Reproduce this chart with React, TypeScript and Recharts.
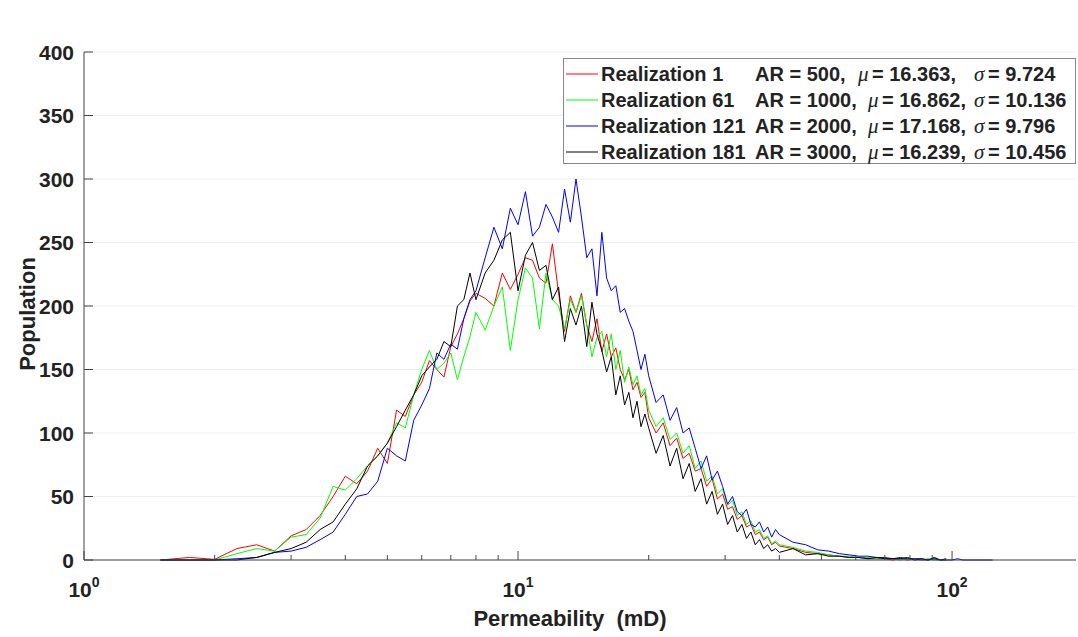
import React from 'react';
import { LineChart, Line, XAxis, YAxis, CartesianGrid, Legend } from 'recharts';

// bin centres (mD) and counts
const permeability = [
  1.5, 1.75, 2, 2.25, 2.5, 2.75, 3, 3.25, 3.5, 3.75, 4, 4.25, 4.5, 4.75, 5, 5.25, 5.5, 5.75, 6, 6.25, 6.5, 6.75, 7, 7.25, 7.5, 7.75,
  8, 8.4, 8.8, 9.2, 9.6, 10, 10.4, 10.8, 11.2, 11.6, 12, 12.4, 12.8, 13.2, 13.6, 14, 14.4, 14.8, 15.2, 15.6, 16, 16.4, 16.8, 17.2, 17.6, 18, 18.4, 18.8, 19.2, 19.6,
  20, 20.8, 21.6, 22.4, 23.2, 24, 24.8, 25.6, 26.4, 27.2, 28, 28.8, 29.6, 30.4, 31.2, 32, 32.8, 33.6, 34.4, 35.2, 36, 36.8, 37.6, 38.4, 39.2,
  40, 43, 46, 49, 52, 55, 58, 61, 64, 67, 70, 73, 76, 79, 82, 85, 88, 91, 94, 97, 100, 103, 106, 109, 112, 115, 118, 121, 124,
];

const realization1 = [
  0, 2, 0.5, 9, 12, 7, 19, 24, 35, 50, 66, 60, 70, 88, 76, 118, 113, 130, 140, 157, 150, 144, 168, 178, 190, 204,
  210, 206, 200, 226, 213, 225, 238, 236, 222, 218, 249, 210, 180, 208, 195, 210, 185, 172, 190, 164, 178, 160, 167, 150, 142, 150, 134, 140, 128, 132,
  112, 100, 108, 90, 96, 80, 84, 70, 72, 58, 64, 48, 52, 40, 42, 32, 35, 26, 28, 20, 22, 16, 18, 12, 14,
  11, 9, 6, 5, 4, 3, 2, 2, 1, 1, 1, 0, 1, 0, 1, 0, 0, 1, 0, 0, null, null, null, null, null, null, null, null, null,
];

const realization61 = [
  0, 0, 0, 5, 9, 7, 18, 20, 33, 58, 55, 64, 74, 82, 92, 108, 104, 130, 150, 165, 150, 155, 163, 142, 160, 176,
  195, 181, 200, 215, 165, 205, 230, 222, 182, 226, 205, 200, 182, 205, 195, 208, 185, 160, 175, 180, 160, 178, 150, 165, 140, 152, 138, 145, 130, 135,
  118, 105, 112, 95, 100, 84, 90, 72, 78, 62, 66, 52, 56, 43, 47, 35, 38, 28, 31, 22, 24, 17, 19, 13, 15,
  12, 10, 7, 6, 4, 3, 3, 2, 2, 1, 1, 1, 0, 1, 0, 0, 1, 0, 0, 0, null, null, null, null, null, null, null, null, null,
];

const realization121 = [
  0, 0, 0, 1, 2, 6, 7, 10, 16, 22, 36, 50, 52, 62, 88, 82, 78, 110, 122, 135, 163, 158, 170, 166, 190, 205,
  212, 238, 262, 245, 277, 264, 290, 255, 262, 280, 270, 258, 292, 266, 300, 270, 238, 245, 208, 258, 222, 212, 216, 195, 198, 188, 180, 165, 150, 162,
  145, 124, 130, 110, 120, 100, 104, 88, 72, 82, 63, 70, 58, 44, 50, 38, 35, 40, 28, 26, 30, 22, 26, 18, 24,
  20, 14, 12, 8, 7, 5, 4, 3, 3, 2, 2, 1, 2, 1, 1, 1, 0, 1, 0, 0, 0, 1, 0, 0, 0, 0, 0, 0, 0,
];

const realization181 = [
  0, 0, 0, 0, 2, 6, 9, 14, 24, 30, 44, 56, 74, 82, 92, 105, 118, 130, 145, 152, 158, 172, 168, 200, 205, 226,
  205, 226, 236, 252, 258, 212, 240, 250, 228, 232, 205, 215, 172, 198, 185, 200, 168, 203, 178, 165, 148, 160, 130, 145, 122, 132, 112, 125, 105, 115,
  104, 84, 98, 74, 88, 64, 76, 54, 64, 44, 54, 36, 44, 28, 35, 22, 28, 17, 22, 12, 16, 9, 12, 7, 9,
  6, 9, 4, 5, 3, 3, 2, 2, 1, 2, 1, 1, 1, 2, 0, 1, 0, 2, 0, 1, null, null, null, null, null, null, null, null, null,
];

const seriesKeys = ['r1', 'r61', 'r121', 'r181'];
const seriesNames = ['Realization 1', 'Realization 61', 'Realization 121', 'Realization 181'];
const seriesColors = ['#ff0000', '#00ff00', '#0000ff', '#000000'];
const aspectRatios = ['AR = 500,', 'AR = 1000,', 'AR = 2000,', 'AR = 3000,'];
const means = ['16.363', '16.862', '17.168', '16.239'];
const stdDevs = ['9.724', '10.136', '9.796', '10.456'];

const xTicks = [1, 2, 3, 4, 5, 6, 7, 8, 9, 10, 20, 30, 40, 50, 60, 70, 80, 90, 100];
const xMajorTicks = [1, 10, 100];
const yTicks = [0, 50, 100, 150, 200, 250, 300, 350, 400];

const data = permeability.map((p, i) => ({
  p,
  r1: realization1[i],
  r61: realization61[i],
  r121: realization121[i],
  r181: realization181[i],
}));

const FONT = '"Liberation Sans", Arial, Helvetica, sans-serif';
const GREEK = '"Liberation Serif", "DejaVu Serif", serif';
const AXIS = '#444';

const BottomTick = (props: any) => {
  const { x, y, payload } = props;
  const major = xMajorTicks.includes(payload.value);
  return (
    <g>
      <line x1={x} x2={x} y1={y} y2={y - (major ? 9 : 5)} stroke={AXIS} />
      {major && (
        <text x={x} y={y + 37} textAnchor="middle" fontFamily={FONT} fontWeight="bold" fontSize={21} fill="#222">
          10<tspan dy={-10} fontSize={14}>{Math.round(Math.log10(payload.value))}</tspan>
        </text>
      )}
    </g>
  );
};

const TopTick = (props: any) => {
  const { x, y, payload } = props;
  const major = xMajorTicks.includes(payload.value);
  return <line x1={x} x2={x} y1={y} y2={y + (major ? 9 : 5)} stroke={AXIS} />;
};

const LeftTick = (props: any) => {
  const { x, y, payload } = props;
  return (
    <g>
      <line x1={x} x2={x + 9} y1={y} y2={y} stroke={AXIS} />
      <text x={x - 10} y={y} textAnchor="end" dominantBaseline="central" fontFamily={FONT} fontWeight="bold" fontSize={21} fill="#222">
        {payload.value}
      </text>
    </g>
  );
};

const RightTick = (props: any) => {
  const { x, y } = props;
  return <line x1={x} x2={x - 9} y1={y} y2={y} stroke={AXIS} />;
};

const LegendBox = () => (
  <svg width={513} height={106} style={{ display: 'block' }}>
    <rect x={0.5} y={0.5} width={512} height={105} fill="#fff" stroke="#888" />
    {seriesNames.map((name, i) => {
      const cy = 16 + i * 26;
      // first entry has extra padding after "AR = 500," in the original string
      const muX = i === 0 ? 295 : 305;
      return (
        <g key={name} fontFamily={FONT} fontWeight="bold" fill="#222" fontSize={20}>
          <line x1={3} x2={35} y1={cy} y2={cy} stroke={seriesColors[i]} />
          <text x={38} y={cy} dominantBaseline="central">{name}</text>
          <text x={192} y={cy} dominantBaseline="central">{aspectRatios[i]}</text>
          <text x={muX} y={cy} dominantBaseline="central" fontFamily={GREEK} fontStyle="italic" fontWeight="normal" fontSize={21}>μ</text>
          <text x={muX + 14} y={cy} dominantBaseline="central">{`= ${means[i]},`}</text>
          <text x={411} y={cy} dominantBaseline="central" fontFamily={GREEK} fontStyle="italic" fontWeight="normal" fontSize={21}>σ</text>
          <text x={425} y={cy} dominantBaseline="central">{`= ${stdDevs[i]}`}</text>
        </g>
      );
    })}
  </svg>
);

export default function App() {
  return (
    <div style={{ position: 'absolute', left: 0, top: 0, width: 1078, height: 637, background: '#fff' }}>
      <LineChart width={1078} height={637} data={data} margin={{ top: 52, right: 2, bottom: 17, left: 0 }}>
        <CartesianGrid vertical={false} stroke="#eeeeee" />
        <XAxis
          dataKey="p"
          type="number"
          scale="log"
          domain={[1, 193]}
          allowDataOverflow
          ticks={xTicks}
          interval={0}
          height={60}
          tickSize={0}
          tickMargin={0}
          tickLine={false}
          tick={<BottomTick />}
          axisLine={{ stroke: AXIS }}
        />
        <XAxis
          xAxisId="top"
          orientation="top"
          dataKey="p"
          type="number"
          scale="log"
          domain={[1, 193]}
          allowDataOverflow
          ticks={xTicks}
          interval={0}
          height={0}
          tickSize={0}
          tickMargin={0}
          tickLine={false}
          tick={<TopTick />}
          axisLine={{ stroke: AXIS }}
        />
        <YAxis
          type="number"
          domain={[0, 400]}
          ticks={yTicks}
          interval={0}
          width={84}
          tickSize={0}
          tickMargin={0}
          tickLine={false}
          tick={<LeftTick />}
          axisLine={{ stroke: AXIS }}
        />
        <YAxis
          yAxisId="right"
          orientation="right"
          type="number"
          domain={[0, 400]}
          ticks={yTicks}
          interval={0}
          width={0}
          tickSize={0}
          tickMargin={0}
          tickLine={false}
          tick={<RightTick />}
          axisLine={{ stroke: AXIS }}
        />
        {seriesKeys.map((k, i) => (
          <Line
            key={k}
            dataKey={k}
            name={seriesNames[i]}
            type="linear"
            stroke={seriesColors[i]}
            strokeWidth={1}
            dot={false}
            activeDot={false}
            isAnimationActive={false}
          />
        ))}
        <Legend
          layout="vertical"
          align="center"
          verticalAlign="middle"
          wrapperStyle={{ position: 'absolute', left: 563, top: 58, width: 513, height: 106 }}
          content={() => <LegendBox />}
        />
      </LineChart>
      <svg width={1078} height={637} style={{ position: 'absolute', left: 0, top: 0, pointerEvents: 'none' }}>
        <text
          x={27}
          y={314}
          transform="rotate(-90 27 314)"
          textAnchor="middle"
          dominantBaseline="central"
          fontFamily={FONT}
          fontWeight="bold"
          fontSize={22}
          fill="#222"
        >
          Population
        </text>
        <text x={570} y={626} textAnchor="middle" fontFamily={FONT} fontWeight="bold" fontSize={22} fill="#222" xmlSpace="preserve">
          Permeability  (mD)
        </text>
      </svg>
    </div>
  );
}
